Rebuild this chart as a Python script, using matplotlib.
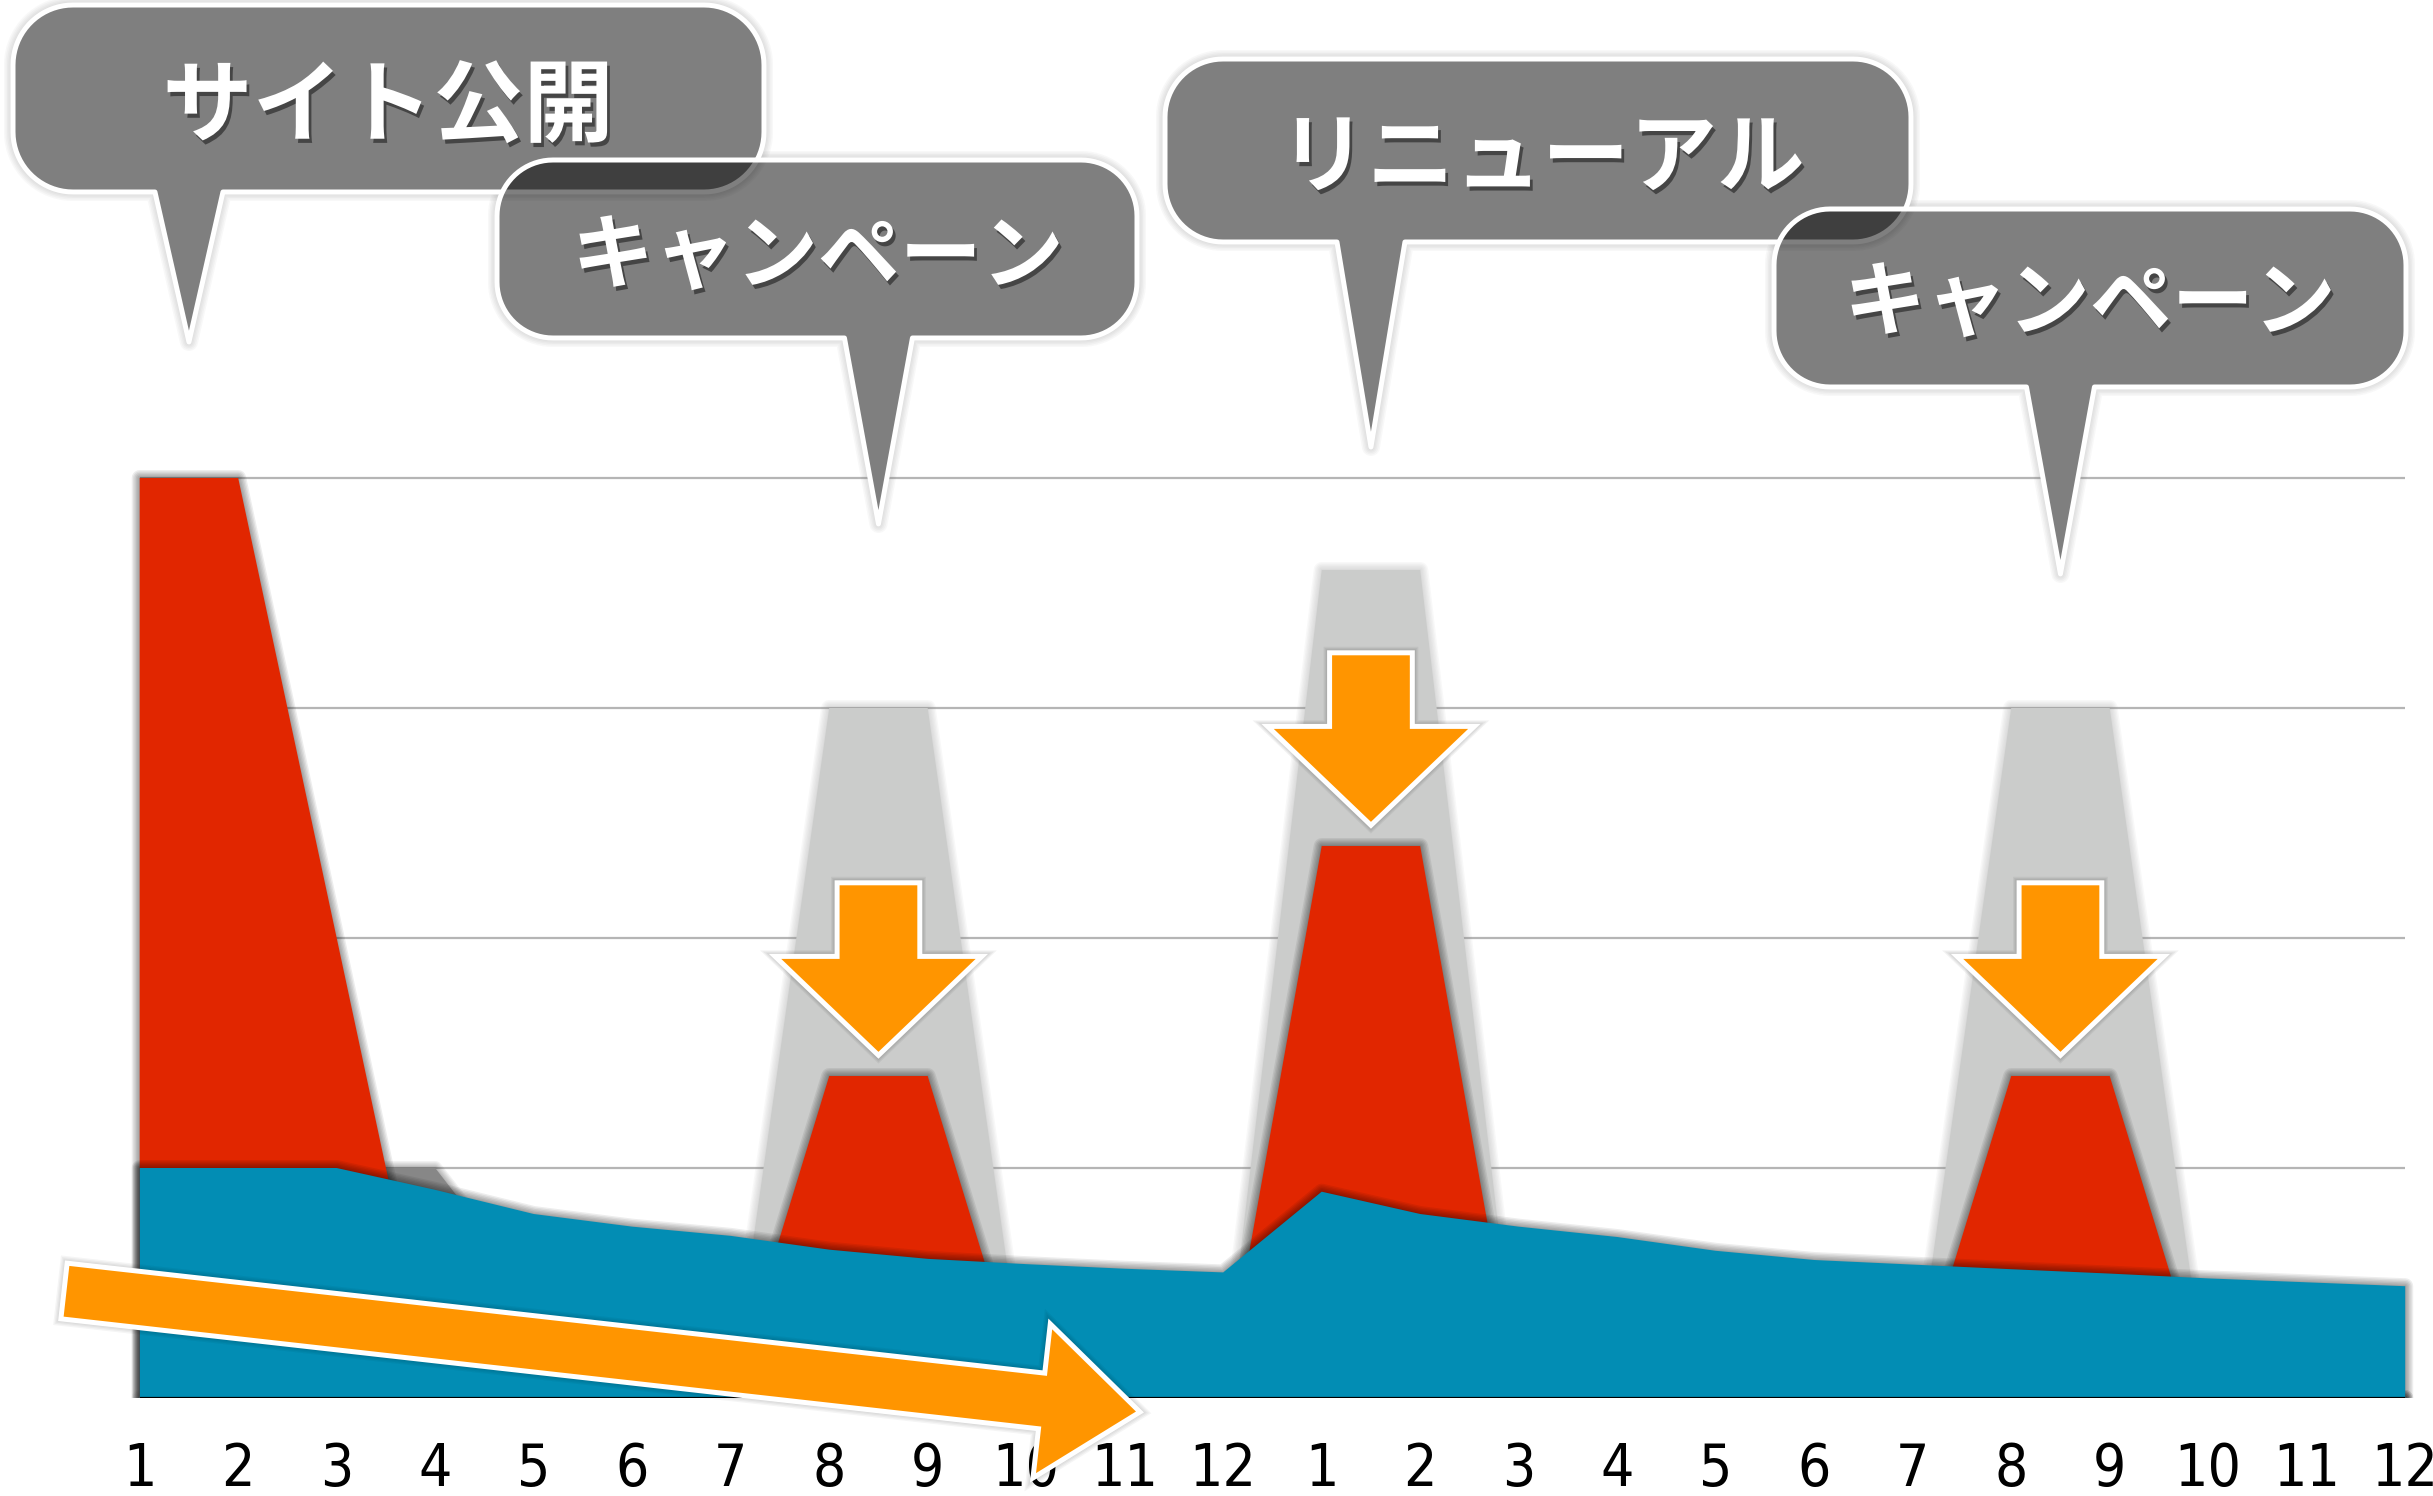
import numpy as np
import matplotlib
matplotlib.use("Agg")
import matplotlib.pyplot as plt
from matplotlib.patches import Polygon
import matplotlib.patheffects as pe

W, H, DPI = 2433, 1496, 100
JP = ["Noto Sans CJK JP", "DejaVu Sans"]
NUM = ["Liberation Sans Narrow", "DejaVu Sans"]

# ---- data: two years of monthly visits (arbitrary units) ----
months = [str(m) for m in range(1, 13)] * 2
potential = [0, 0, 0, 0, 0, 0, 0, 3.0, 3.0, 0, 0, 0,
             3.6, 3.6, 0, 0, 0, 0, 0, 3.0, 3.0, 0, 0, 0]
carryover = [1.0, 1.0, 1.0, 1.0, 0.45, 0, 0, 0, 0, 0, 0, 0,
             0, 0, 0, 0, 0, 0, 0, 0, 0, 0, 0, 0]
campaign = [4.0, 4.0, 2.0, 0, 0, 0, 0, 1.4, 1.4, 0, 0, 0,
            2.4, 2.4, 0, 0, 0, 0, 0, 1.4, 1.4, 0, 0, 0]
organic = [1.0, 1.0, 1.0, 0.905, 0.80, 0.745, 0.705, 0.645, 0.605, 0.582, 0.562, 0.546,
           0.897, 0.80, 0.745, 0.70, 0.64, 0.60, 0.58, 0.56, 0.541, 0.52, 0.503, 0.486]

events = ["サイト公開", "キャンペーン", "リニューアル", "キャンペーン"]
event_at = [0.5, 7.5, 12.5, 19.5]
boost_at = [7.5, 12.5, 19.5]

C_POT = "#cbcccb"
C_CARRY = "#878787"
C_CAMP = "#e12600"
C_ORG = "#028db4"
C_ARROW = "#ff9500"
C_GRID = "#b5b5b5"

# ---- layout (pixels) ----
X0_PX, STEP_PX = 139.7, 98.5      # x of first month, width of one month
BASE_PX, UNIT_PX = 1398, 230      # y of baseline, height of one unit
XPAD_L, XPAD_R = 0.3, 0.25
YTOP = 4.4

fig = plt.figure(figsize=(W / DPI, H / DPI), dpi=DPI)
n = len(months)
x = np.arange(n)
ax = fig.add_axes([(X0_PX - XPAD_L * STEP_PX) / W, 1 - BASE_PX / H,
                   (n - 1 + XPAD_L + XPAD_R) * STEP_PX / W, YTOP * UNIT_PX / H])
ax.set_xlim(-XPAD_L, n - 1 + XPAD_R)
ax.set_ylim(0, YTOP)
ax.patch.set_alpha(0)
for s in ax.spines.values():
    s.set_visible(False)
ax.set_yticks([])
ax.set_xticks(x)
ax.set_xticklabels(months, fontfamily=NUM, fontstretch="condensed",
                   fontweight="light", fontsize=42)
ax.tick_params(axis="x", length=0, pad=31, colors="black")

ax.hlines([1, 2, 3, 4], 0, n - 1, color=C_GRID, lw=1.6, zorder=0.5)


def soft_shadow(vals, color, alpha, spread, z):
    for w in np.linspace(spread, 2, 6):
        ax.fill_between(x, 0, vals, facecolor="none", edgecolor=color,
                        linewidth=w * 0.72, alpha=alpha, joinstyle="round", zorder=z)


soft_shadow(potential, "#909090", 0.06, 16, 1)
ax.fill_between(x, 0, potential, facecolor=C_POT, edgecolor="none", zorder=1.1)
soft_shadow(carryover, "black", 0.05, 14, 2)
ax.fill_between(x, 0, carryover, facecolor=C_CARRY, edgecolor="none", zorder=2.1)
soft_shadow(campaign, "black", 0.07, 16, 3)
ax.fill_between(x, 0, campaign, facecolor=C_CAMP, edgecolor="none", zorder=3.1)
soft_shadow(organic, "black", 0.07, 16, 4)
ax.fill_between(x, 0, organic, facecolor=C_ORG, edgecolor="none", zorder=4.1)
ax.hlines(0, 0, n - 1, color="black", lw=1.6, zorder=4.5)

# ---- down arrows pointing at the campaign peaks ----
for cx in boost_at:
    tip = campaign[int(cx)] + 0.09
    hw_head, hw_shaft, head_h, total = 1.05, 0.42, 0.43, 0.75
    pts = [(cx, tip), (cx + hw_head, tip + head_h), (cx + hw_shaft, tip + head_h),
           (cx + hw_shaft, tip + total), (cx - hw_shaft, tip + total),
           (cx - hw_shaft, tip + head_h), (cx - hw_head, tip + head_h)]
    for w in np.linspace(12, 5, 4):
        ax.add_patch(Polygon(pts, closed=True, facecolor="none", edgecolor="black",
                             lw=w * 0.72, alpha=0.05, joinstyle="miter", zorder=5))
    ax.add_patch(Polygon(pts, closed=True, facecolor=C_ARROW, edgecolor="white",
                         lw=3.6, joinstyle="miter", zorder=5.1))


def fig_xy(px, py):
    return (px / W, 1 - py / H)


# ---- long trend arrow across the first year ----
start = np.array([64.0, 1291.0])
tip = np.array([1140.0, 1412.0])
d = (tip - start) / np.linalg.norm(tip - start)
p = np.array([-d[1], d[0]])
shaft_w, head_w, head_len = 56, 155, 99
base = tip - d * head_len
arrow_px = [start - p * shaft_w / 2, base - p * shaft_w / 2, base - p * head_w / 2, tip,
            base + p * head_w / 2, base + p * shaft_w / 2, start + p * shaft_w / 2]
arrow_fig = [fig_xy(*q) for q in arrow_px]
for w in np.linspace(14, 6, 4):
    fig.add_artist(Polygon(arrow_fig, closed=True, transform=fig.transFigure,
                           facecolor="none", edgecolor="black", lw=w * 0.72, alpha=0.04,
                           joinstyle="miter", zorder=5))
fig.add_artist(Polygon(arrow_fig, closed=True, transform=fig.transFigure,
                       facecolor=C_ARROW, edgecolor="white", lw=3.6,
                       joinstyle="miter", zorder=5.1))


# ---- speech-bubble labels ----
def bubble(x0, y0, x1, y1, r, tx, ty, hw):
    pts = []

    def arc(cx, cy, a0, a1):
        for a in np.linspace(a0, a1, 20):
            pts.append((cx + r * np.cos(a), cy + r * np.sin(a)))

    arc(x0 + r, y0 + r, np.pi, 1.5 * np.pi)
    arc(x1 - r, y0 + r, 1.5 * np.pi, 2 * np.pi)
    arc(x1 - r, y1 - r, 0, 0.5 * np.pi)
    pts += [(tx + hw, y1), (tx, ty), (tx - hw, y1)]
    arc(x0 + r, y1 - r, 0.5 * np.pi, np.pi)
    return [fig_xy(*q) for q in pts]


def data_px(xv):
    dx, _ = ax.transData.transform((xv, 0))
    return dx


boxes = [(13, 5, 764, 192, 60, 342), (497, 160, 1137, 338, 56, 524),
         (1165, 59, 1911, 242, 58, 447), (1774, 209, 2406, 387, 56, 574)]
text_pos = [(388, 108), (818, 258), (1542, 160), (2090, 305)]
text_size = [65, 59, 63, 59]

shapes = []
for (x0, y0, x1, y1, r, ty), ev in zip(boxes, event_at):
    shapes.append(bubble(x0, y0, x1, y1, r, data_px(ev), ty, 34))


def halo(shape, z):
    for w in np.linspace(18, 6, 5):
        fig.add_artist(Polygon(shape, closed=True, transform=fig.transFigure,
                               facecolor="none", edgecolor="#777777", lw=w * 0.72,
                               alpha=0.05, joinstyle="round", zorder=z))
    fig.add_artist(Polygon(shape, closed=True, transform=fig.transFigure,
                           facecolor="white", edgecolor="none", zorder=z + 0.01))


def body(shape, z):
    fig.add_artist(Polygon(shape, closed=True, transform=fig.transFigure,
                           facecolor=(0, 0, 0, 0.5), edgecolor="white", lw=3.6,
                           joinstyle="round", zorder=z))


# lower bubbles first (halo only), then the upper row, then the lower row bodies
halo(shapes[1], 6)
halo(shapes[3], 6)
halo(shapes[0], 7)
body(shapes[0], 7.5)
halo(shapes[2], 7)
body(shapes[2], 7.5)
body(shapes[1], 8)
body(shapes[3], 8)

for (tx, ty), s, fs in zip(text_pos, events, text_size):
    fig.text(tx / W, 1 - ty / H, s, ha="center", va="center", color="white",
             fontsize=fs, fontweight="bold", fontfamily=JP, zorder=9,
             path_effects=[pe.withSimplePatchShadow(offset=(2, -3), shadow_rgbFace="black",
                                                    alpha=0.45)])

fig.savefig("out.png", dpi=DPI, facecolor="white")
